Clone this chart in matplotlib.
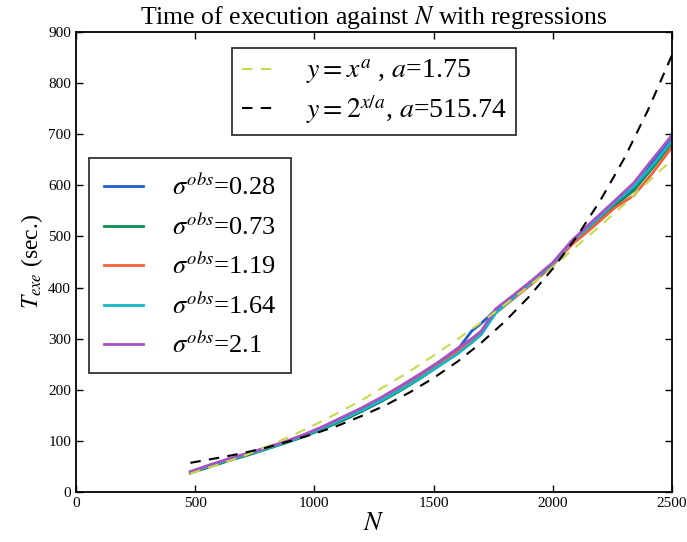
import matplotlib
matplotlib.use("Agg")
import matplotlib.pyplot as plt

# ------------------------------------------------------------
# DATA
# ------------------------------------------------------------

n_obs = [480, 560, 640, 720, 800, 880, 960, 1040, 1120, 1200, 1280, 1360, 1440,
         1520, 1600, 1660, 1700, 1760, 1840, 1920, 2000, 2080, 2160, 2260,
         2340, 2420, 2500]

t_028 = [38, 50, 62, 74, 85, 97, 110, 126, 143, 161, 181, 203, 226, 250, 278,
         315, 330, 356, 384, 414, 447, 488, 522, 566, 595, 645, 690]
t_073 = [37, 49, 61, 72, 84, 96, 109, 124, 140, 158, 177, 198, 221, 246, 272,
         295, 310, 352, 381, 412, 446, 486, 520, 560, 590, 635, 683]
t_119 = [38, 51, 63, 74, 86, 98, 112, 128, 146, 163, 182, 202, 224, 248, 274,
         296, 312, 350, 380, 410, 444, 484, 515, 556, 580, 625, 675]
t_164 = [39, 51, 63, 74, 85, 97, 111, 126, 143, 160, 179, 200, 222, 246, 270,
         292, 308, 350, 382, 413, 447, 490, 522, 566, 598, 640, 687]
t_210 = [40, 53, 65, 76, 87, 99, 113, 129, 147, 165, 185, 207, 230, 254, 281,
         300, 315, 358, 387, 417, 449, 492, 527, 570, 605, 652, 698]

sigmas = ["0.28", "0.73", "1.19", "1.64", "2.1"]
series = [t_028, t_073, t_119, t_164, t_210]
colors = ["#1f5fc8", "#0b8a56", "#f5603a", "#16b6c6", "#a851c4"]

# regression curves
n_fit = [480, 600, 700, 800, 900, 1000, 1100, 1200, 1300, 1400, 1500, 1600,
         1700, 1800, 1900, 2000, 2100, 2200, 2300, 2400, 2500]
t_pow = [36, 54, 70, 89, 109, 131, 155, 180, 208, 236, 267, 299, 332, 367,
         403, 440, 481, 521, 563, 607, 650]
t_exp = [57, 67, 76, 87, 100, 114, 130, 149, 170, 195, 223, 255, 292, 334,
         382, 437, 499, 571, 653, 748, 855]

# ------------------------------------------------------------
# FIGURE
# ------------------------------------------------------------

plt.rcParams["font.family"] = "serif"
plt.rcParams["font.serif"] = ["Liberation Serif", "DejaVu Serif"]
plt.rcParams["mathtext.fontset"] = "stix"
plt.rcParams["xtick.direction"] = "in"
plt.rcParams["ytick.direction"] = "in"
plt.rcParams["xtick.top"] = True
plt.rcParams["ytick.right"] = True

fig = plt.figure(figsize=(6.87, 5.42), dpi=100)
ax = fig.add_axes([0.1106, 0.0923, 0.8676, 0.8487])

lines = []
for sig, vals, col in zip(sigmas, series, colors):
    ln, = ax.plot(n_obs, vals, color=col, linewidth=2.0,
                  label=r"$\sigma^{obs}$=" + sig)
    lines.append(ln)

fit1, = ax.plot(n_fit, t_pow, color="#c8da4c", linestyle="--", linewidth=1.5,
                dashes=(5, 4), label=r"$y=x^a$ , $a$=1.75")
fit2, = ax.plot(n_fit, t_exp, color="black", linestyle="--", linewidth=1.5,
                dashes=(5, 4), label=r"$y=2^{x/a}$, $a$=515.74")

ax.set_xlim(0, 2500)
ax.set_ylim(0, 900)
ax.set_xticks(range(0, 2501, 500))
ax.set_yticks(range(0, 901, 100))
ax.tick_params(labelsize=11, length=5, width=1)
for sp in ax.spines.values():
    sp.set_linewidth(1.3)

ax.set_title(r"Time of execution against $N$ with regressions", fontsize=18.5,
             pad=6)
ax.set_xlabel(r"$N$", fontsize=19, labelpad=2)
ax.set_ylabel(r"$T_{exe}$ (sec.)", fontsize=17, labelpad=2)

leg1 = ax.legend(handles=[fit1, fit2], loc="upper center",
                 bbox_to_anchor=(0.5, 0.995), fontsize=20, frameon=True,
                 fancybox=False, edgecolor="black", handlelength=1.3,
                 handletextpad=1.0, labelspacing=0.2, borderpad=0.35)
leg1.get_frame().set_linewidth(1.3)
ax.add_artist(leg1)

leg2 = ax.legend(handles=lines, loc="upper left",
                 bbox_to_anchor=(0.0, 0.754), fontsize=19, frameon=True,
                 fancybox=False, edgecolor="black", handlelength=1.5,
                 handletextpad=1.1, labelspacing=0.45, borderpad=0.55)
leg2.get_frame().set_linewidth(1.3)

fig.savefig("out.png", dpi=100)
